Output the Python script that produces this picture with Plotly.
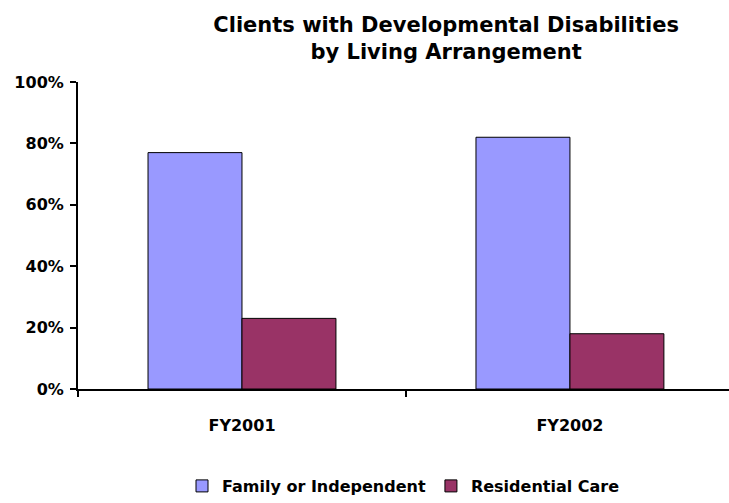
import plotly.graph_objects as go

# Share of clients by living arrangement, per fiscal year
years = ["FY2001", "FY2002"]
family_independent = [0.77, 0.82]
residential_care = [0.23, 0.18]

series_names = ["Family or Independent", "Residential Care"]
series_colors = ["#9999FF", "#993366"]

x_pos = list(range(len(years)))
FONT = "DejaVu Sans"

fig = go.Figure()
for name, vals, color in zip(series_names, [family_independent, residential_care], series_colors):
    fig.add_trace(go.Bar(
        name=name,
        x=x_pos,
        y=vals,
        marker=dict(color=color, line=dict(color="black", width=1)),
        hovertemplate="%{y:.0%}<extra>" + name + "</extra>",
    ))

fig.update_layout(
    width=729,
    height=503,
    margin=dict(l=78, r=0, t=82, b=111),
    paper_bgcolor="white",
    plot_bgcolor="white",
    barmode="group",
    bargap=0.427,
    bargroupgap=0,
    font=dict(family=FONT, size=16, color="black", weight="bold"),
    title=dict(
        text="Clients with Developmental Disabilities<br>by Living Arrangement",
        font=dict(family=FONT, size=21, color="black", weight="bold"),
        x=0.612, xref="container", xanchor="center",
        y=1 - 32 / 503, yref="container", yanchor="top",
    ),
    legend=dict(
        orientation="h",
        x=0.5, xanchor="center",
        y=-0.316, yanchor="middle",
        font=dict(family=FONT, size=16, color="black", weight="bold"),
        itemwidth=30,
        traceorder="normal",
    ),
    showlegend=True,
)

fig.update_xaxes(
    range=[-0.5, 1.485],
    tickmode="array",
    tickvals=x_pos,
    ticktext=years,
    ticks="",
    ticklabelstandoff=21,
    showline=True,
    linecolor="black",
    linewidth=2,
    showgrid=False,
    zeroline=False,
    minor=dict(
        tickmode="array",
        tickvals=[p - 0.5 for p in x_pos],
        ticks="outside",
        ticklen=6,
        tickwidth=2,
        tickcolor="black",
        showgrid=False,
    ),
)

fig.update_yaxes(
    range=[0, 1],
    dtick=0.2,
    tickformat=".0%",
    ticks="outside",
    ticklen=6,
    tickwidth=2,
    tickcolor="black",
    ticklabelstandoff=3,
    showline=True,
    linecolor="black",
    linewidth=2,
    showgrid=False,
    zeroline=False,
)

fig.write_html("out.html")
